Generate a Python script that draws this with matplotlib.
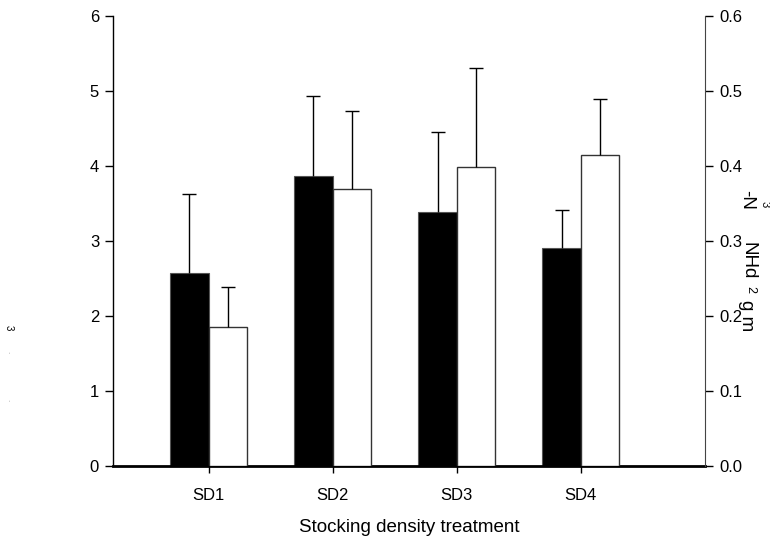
import matplotlib.pyplot as plt
import numpy as np

plt.rcParams['font.family'] = ['Liberation Sans', 'DejaVu Sans']

# ================================
# data
# ================================
treatments = ["SD1", "SD2", "SD3", "SD4"]
left_mean = [2.57, 3.87, 3.39, 2.91]
left_err = [1.06, 1.06, 1.06, 0.51]
right_mean = [0.185, 0.369, 0.399, 0.415]
right_err = [0.054, 0.104, 0.132, 0.074]

x = np.arange(1, len(treatments) + 1)
w = 0.31

fig = plt.figure(figsize=(7.7, 5.39), dpi=100)
ax = fig.add_axes([113 / 770, 1 - 466 / 539, 592 / 770, 450 / 539])
ax2 = ax.twinx()

ekw = dict(ecolor="black", elinewidth=1.0, capsize=5, capthick=1.0)
b1 = ax.bar(x - w / 2, left_mean, width=w, color="black", edgecolor="#555555", linewidth=0.8,
            yerr=[np.zeros(4), left_err], error_kw=ekw)
b2 = ax2.bar(x + w / 2, right_mean, width=w, color="white", edgecolor="#333333", linewidth=1.0,
             yerr=[np.zeros(4), right_err], error_kw=ekw)

# only the upper cap is drawn
for b in (b1, b2):
    caps = b.errorbar.lines[1]
    caps[0].set_visible(False)

ax.set_xlim(0.23, 5.0)
ax.set_ylim(0, 6)
ax2.set_ylim(0, 0.6)
ax.set_yticks(range(0, 7))
ax2.set_yticks(np.arange(0, 0.61, 0.1))
ax2.set_yticklabels([f"{v:.1f}" for v in np.arange(0, 0.61, 0.1)])
ax.set_xticks(x)
ax.set_xticklabels(treatments)

for a in (ax, ax2):
    a.spines["top"].set_visible(False)
ax.spines["right"].set_visible(False)
ax2.spines["left"].set_visible(False)
ax2.spines["bottom"].set_visible(False)
ax2.spines["right"].set_color("#444444")
ax.spines["bottom"].set_linewidth(2.0)
ax.spines["left"].set_linewidth(1.0)

ax.tick_params(axis="y", direction="out", length=6, width=1, labelsize=12, pad=4)
ax.tick_params(axis="x", direction="out", length=5, width=1, labelsize=12, pad=11)
ax2.tick_params(axis="y", direction="out", length=6, width=1, labelsize=12, pad=4)

ax.set_xlabel("Stocking density treatment", fontsize=13.5, labelpad=11)

# right axis label fragments (as printed in the figure)
fig.text(747 / 770, 1 - 200 / 539, "-N", rotation=270, fontsize=13.5, ha="center", va="center")
fig.text(765 / 770, 1 - 204 / 539, "3", rotation=270, fontsize=8, ha="center", va="center")
fig.text(748 / 770, 1 - 261 / 539, "NHd", rotation=270, fontsize=13.5, ha="center", va="center")
fig.text(750 / 770, 1 - 289 / 539, "2", rotation=270, fontsize=9, ha="center", va="center")
fig.text(747 / 770, 1 - 316 / 539, "g m", rotation=270, fontsize=13.5, ha="center", va="center")

# faint left axis label fragments
fig.text(9 / 770, 1 - 328 / 539, "3", rotation=270, fontsize=7, ha="center", va="center")
fig.text(9 / 770, 1 - 352 / 539, ".", rotation=270, fontsize=6, ha="center", va="center", color="#999999")
fig.text(9 / 770, 1 - 400 / 539, ".", rotation=270, fontsize=6, ha="center", va="center", color="#999999")

fig.savefig("out.png", dpi=100)
